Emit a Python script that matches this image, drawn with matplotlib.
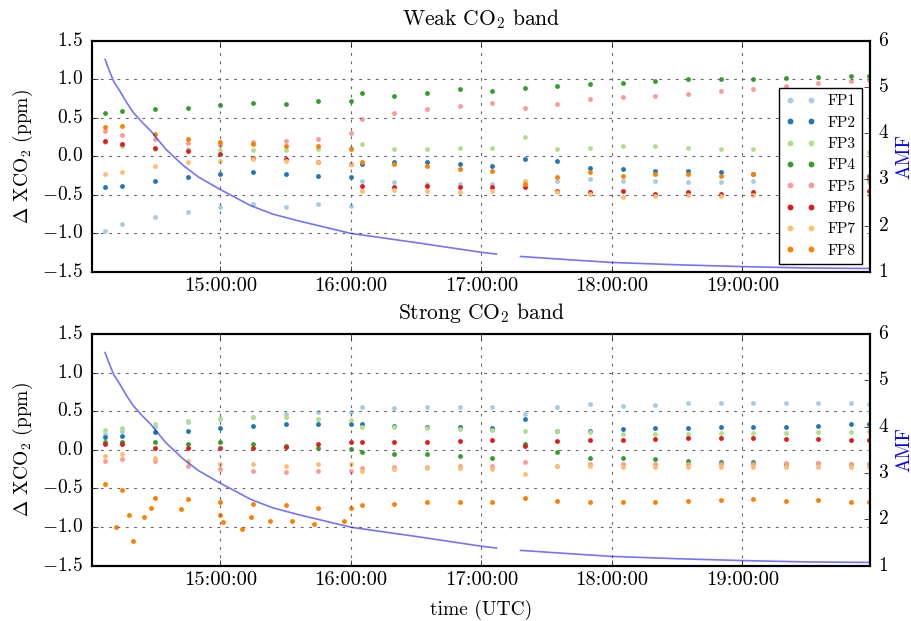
import datetime as dt
import matplotlib
matplotlib.use("Agg")
import matplotlib.pyplot as plt
import matplotlib.dates as mdates
import matplotlib.ticker as mticker

plt.style.use("classic")
plt.rcParams.update({
    "figure.facecolor": "white",
    "savefig.facecolor": "white",
    "font.family": "serif",
    "font.serif": ["cmr10"],
    "mathtext.fontset": "cm",
    "axes.formatter.use_mathtext": True,
    "font.size": 14,
    "axes.linewidth": 1.5,
})

# sample times (UTC) for each data segment
seg_a = ["14:07", "14:15", "14:30", "14:45", "15:00", "15:15", "15:30", "15:45", "16:00"]
seg_b = ["16:05", "16:20", "16:35", "16:50", "17:05"]
seg_c = ["17:20", "17:35", "17:50", "18:05", "18:20", "18:35", "18:50", "19:05",
         "19:20", "19:35", "19:50", "19:58"]
times = seg_a + seg_b + seg_c

labels = ["FP1", "FP2", "FP3", "FP4", "FP5", "FP6", "FP7", "FP8"]
colors = ["#a6cee3", "#1f78b4", "#b2df8a", "#33a02c",
          "#fb9a99", "#e31a1c", "#fdbf6f", "#ff7f00"]

# Weak CO2 band, delta XCO2 (ppm)
weak_fp1 = [-0.97, -0.88, -0.79, -0.73, -0.66, -0.62, -0.66, -0.62, -0.64,
            -0.32, -0.34, -0.36, -0.36, -0.36,
            -0.32, -0.32, -0.30, -0.32, -0.32, -0.33, -0.33, -0.32, -0.33, -0.33, -0.34, -0.34]
weak_fp2 = [-0.40, -0.38, -0.32, -0.27, -0.23, -0.21, -0.23, -0.25, -0.27,
            -0.10, -0.08, -0.08, -0.10, -0.12,
            -0.04, -0.06, -0.15, -0.17, -0.19, -0.19, -0.21, -0.23, -0.21, -0.22, -0.24, -0.25]
weak_fp3 = [0.18, 0.14, 0.10, 0.09, 0.08, 0.08, 0.08, 0.09, 0.11,
            0.16, 0.09, 0.09, 0.11, 0.11,
            0.25, 0.09, 0.11, 0.14, 0.14, 0.11, 0.09, 0.09, 0.09, 0.08, 0.06, 0.05]
weak_fp4 = [0.57, 0.59, 0.61, 0.63, 0.67, 0.69, 0.68, 0.72, 0.72,
            0.83, 0.79, 0.83, 0.87, 0.85,
            0.89, 0.92, 0.94, 0.96, 0.98, 1.00, 1.00, 1.01, 1.02, 1.03, 1.04, 1.05]
weak_fp5 = [0.33, 0.28, 0.22, 0.17, 0.15, 0.18, 0.20, 0.23, 0.30,
            0.48, 0.57, 0.61, 0.66, 0.70,
            0.63, 0.68, 0.74, 0.77, 0.79, 0.81, 0.85, 0.88, 0.92, 0.95, 0.98, 0.99]
weak_fp6 = [0.20, 0.16, 0.11, 0.07, 0.03, -0.02, -0.04, -0.08, -0.10,
            -0.38, -0.40, -0.38, -0.40, -0.40,
            -0.40, -0.45, -0.47, -0.45, -0.49, -0.47, -0.49, -0.47, -0.49, -0.48, -0.47, -0.45]
weak_fp7 = [-0.23, -0.21, -0.12, -0.08, -0.06, -0.04, -0.06, -0.08, -0.10,
            -0.45, -0.44, -0.45, -0.46, -0.45,
            -0.32, -0.47, -0.49, -0.53, -0.52, -0.50, -0.52, -0.50, -0.51, -0.51, -0.50, -0.50]
weak_fp8 = [0.38, 0.40, 0.29, 0.22, 0.18, 0.16, 0.14, 0.14, 0.09,
            -0.08, -0.10, -0.12, -0.17, -0.19,
            -0.36, -0.27, -0.21, -0.25, -0.23, -0.23, -0.25, -0.23, -0.25, -0.26, -0.28, -0.30]

# Strong CO2 band, delta XCO2 (ppm)
strong_fp1 = [0.20, 0.24, 0.30, 0.36, 0.40, 0.43, 0.46, 0.49, 0.49,
              0.55, 0.54, 0.55, 0.56, 0.56,
              0.46, 0.55, 0.59, 0.57, 0.58, 0.61, 0.61, 0.61, 0.60, 0.61, 0.60, 0.59]
strong_fp2 = [0.16, 0.18, 0.23, 0.25, 0.28, 0.31, 0.33, 0.33, 0.33,
              0.33, 0.31, 0.30, 0.29, 0.28,
              0.40, 0.24, 0.25, 0.27, 0.28, 0.28, 0.29, 0.30, 0.30, 0.31, 0.33, 0.33]
strong_fp3 = [0.26, 0.28, 0.33, 0.37, 0.41, 0.43, 0.43, 0.40, 0.39,
              0.30, 0.29, 0.28, 0.27, 0.26,
              0.24, 0.25, 0.23, 0.21, 0.21, 0.21, 0.22, 0.22, 0.22, 0.23, 0.23, 0.24]
strong_fp4 = [0.10, 0.10, 0.10, 0.08, 0.10, 0.08, 0.05, 0.03, 0.01,
              -0.03, -0.05, -0.05, -0.08, -0.10,
              0.08, -0.03, -0.10, -0.11, -0.12, -0.14, -0.16, -0.16, -0.18, -0.17, -0.19, -0.18]
strong_fp5 = [-0.14, -0.12, -0.15, -0.21, -0.25, -0.28, -0.29, -0.28, -0.27,
              -0.23, -0.22, -0.22, -0.21, -0.21,
              -0.16, -0.21, -0.19, -0.19, -0.19, -0.19, -0.18, -0.18, -0.17, -0.17, -0.18, -0.18]
strong_fp6 = [0.08, 0.07, 0.03, 0.03, 0.02, 0.03, 0.04, 0.07, 0.10,
              0.10, 0.10, 0.10, 0.11, 0.13,
              0.05, 0.11, 0.13, 0.13, 0.14, 0.15, 0.15, 0.15, 0.14, 0.14, 0.13, 0.13]
strong_fp7 = [-0.08, -0.06, -0.11, -0.15, -0.18, -0.19, -0.21, -0.19, -0.18,
              -0.27, -0.25, -0.24, -0.24, -0.25,
              -0.31, -0.21, -0.21, -0.22, -0.22, -0.22, -0.22, -0.22, -0.22, -0.22, -0.22, -0.22]
strong_fp8 = [-0.44, -0.52, -0.62, -0.64, -0.68, -0.70, -0.72, -0.75, -0.75,
              -0.72, -0.70, -0.68, -0.68, -0.68,
              -0.62, -0.66, -0.68, -0.68, -0.67, -0.66, -0.65, -0.64, -0.66, -0.65, -0.68, -0.68]

# scattered low FP8 soundings in the strong band
strong_fp8_out_t = ["14:12", "14:18", "14:20", "14:25", "14:28", "14:42", "15:00",
                    "15:01", "15:10", "15:14", "15:23", "15:33", "15:43", "15:57"]
strong_fp8_out = [-1.00, -0.85, -1.18, -0.87, -0.75, -0.77, -0.85,
                  -0.94, -1.03, -0.87, -0.92, -0.92, -0.96, -0.92]

# air mass factor, before and after the data gap
amf_t1 = ["14:07", "14:09", "14:11", "14:14", "14:17", "14:20", "14:24", "14:28", "14:35",
          "14:43", "14:50", "15:00", "15:14", "15:24", "15:36", "16:00", "16:30", "17:00", "17:07"]
amf_1 = [5.60, 5.35, 5.12, 4.90, 4.66, 4.45, 4.24, 4.05, 3.65,
         3.30, 3.05, 2.78, 2.43, 2.25, 2.10, 1.83, 1.63, 1.42, 1.38]
amf_t2 = ["17:18", "17:40", "18:00", "18:30", "19:00", "19:30", "19:58"]
amf_2 = [1.33, 1.26, 1.20, 1.15, 1.11, 1.08, 1.07]


def to_dt(s):
    h, m = s.split(":")
    return dt.datetime(2014, 6, 1, int(h), int(m))


t = [to_dt(s) for s in times]
weak = [weak_fp1, weak_fp2, weak_fp3, weak_fp4, weak_fp5, weak_fp6, weak_fp7, weak_fp8]
strong = [strong_fp1, strong_fp2, strong_fp3, strong_fp4,
          strong_fp5, strong_fp6, strong_fp7, strong_fp8]

ypad = plt.rcParams["ytick.major.pad"]
tpad = plt.rcParams["axes.titlepad"]
lpad = plt.rcParams["axes.labelpad"]

fig = plt.figure(figsize=(9.12, 6.21), dpi=100)
ax_top = fig.add_axes([0.1009, 0.5625, 0.853, 0.3715])
ax_bot = fig.add_axes([0.1009, 0.0891, 0.853, 0.3731])


def draw_panel(ax, series, title):
    for vals, c, lab in zip(series, colors, labels):
        ax.plot(t, vals, "o", color=c, ms=3.5, mew=0, label=lab)
    ax.set_xlim(to_dt("14:01"), dt.datetime(2014, 6, 1, 19, 58, 40))
    ax.set_ylim(-1.5, 1.5)
    ax.set_yticks([-1.5, -1.0, -0.5, 0.0, 0.5, 1.0, 1.5])
    ax.yaxis.set_major_formatter(
        mticker.FuncFormatter(lambda v, p: r"$\mathdefault{%.1f}$" % v))
    ax.xaxis.set_major_locator(mdates.HourLocator())
    ax.xaxis.set_major_formatter(mdates.DateFormatter("%H:%M:%S"))
    ax.tick_params(axis="x", labelsize=14.8)
    ax.tick_params(axis="y", pad=ypad + 2.7)
    ax.grid(True, color="0.4", linestyle=(0, (2, 4)), linewidth=0.8)
    ax.set_ylabel(r"$\Delta$ XCO$_2$ (ppm)")
    ax.set_title(title, fontsize=15.5, pad=tpad + 6)

    ax2 = ax.twinx()
    ax2.plot([to_dt(s) for s in amf_t1], amf_1, color="b", alpha=0.55, lw=1.2)
    ax2.plot([to_dt(s) for s in amf_t2], amf_2, color="b", alpha=0.55, lw=1.2)
    ax2.set_ylim(1, 6)
    ax2.set_xlim(ax.get_xlim())
    ax2.tick_params(axis="y", pad=ypad + 1.8)
    ax2.set_ylabel("AMF", color="b", labelpad=lpad - 0.5)
    return ax2


draw_panel(ax_top, weak, "Weak CO$_2$ band")
ax_top.legend(loc="lower right", numpoints=2, fontsize=11, fancybox=False,
              borderaxespad=0.49, borderpad=0.42, labelspacing=0.5,
              handlelength=1.97, handletextpad=0.78, markerscale=1.2)

draw_panel(ax_bot, strong, "Strong CO$_2$ band")
ax_bot.plot([to_dt(s) for s in strong_fp8_out_t], strong_fp8_out, "o",
            color=colors[7], ms=3.5, mew=0)
ax_bot.set_xlabel("time (UTC)", labelpad=lpad + 2.5)

fig.savefig("out.png", dpi=100)
